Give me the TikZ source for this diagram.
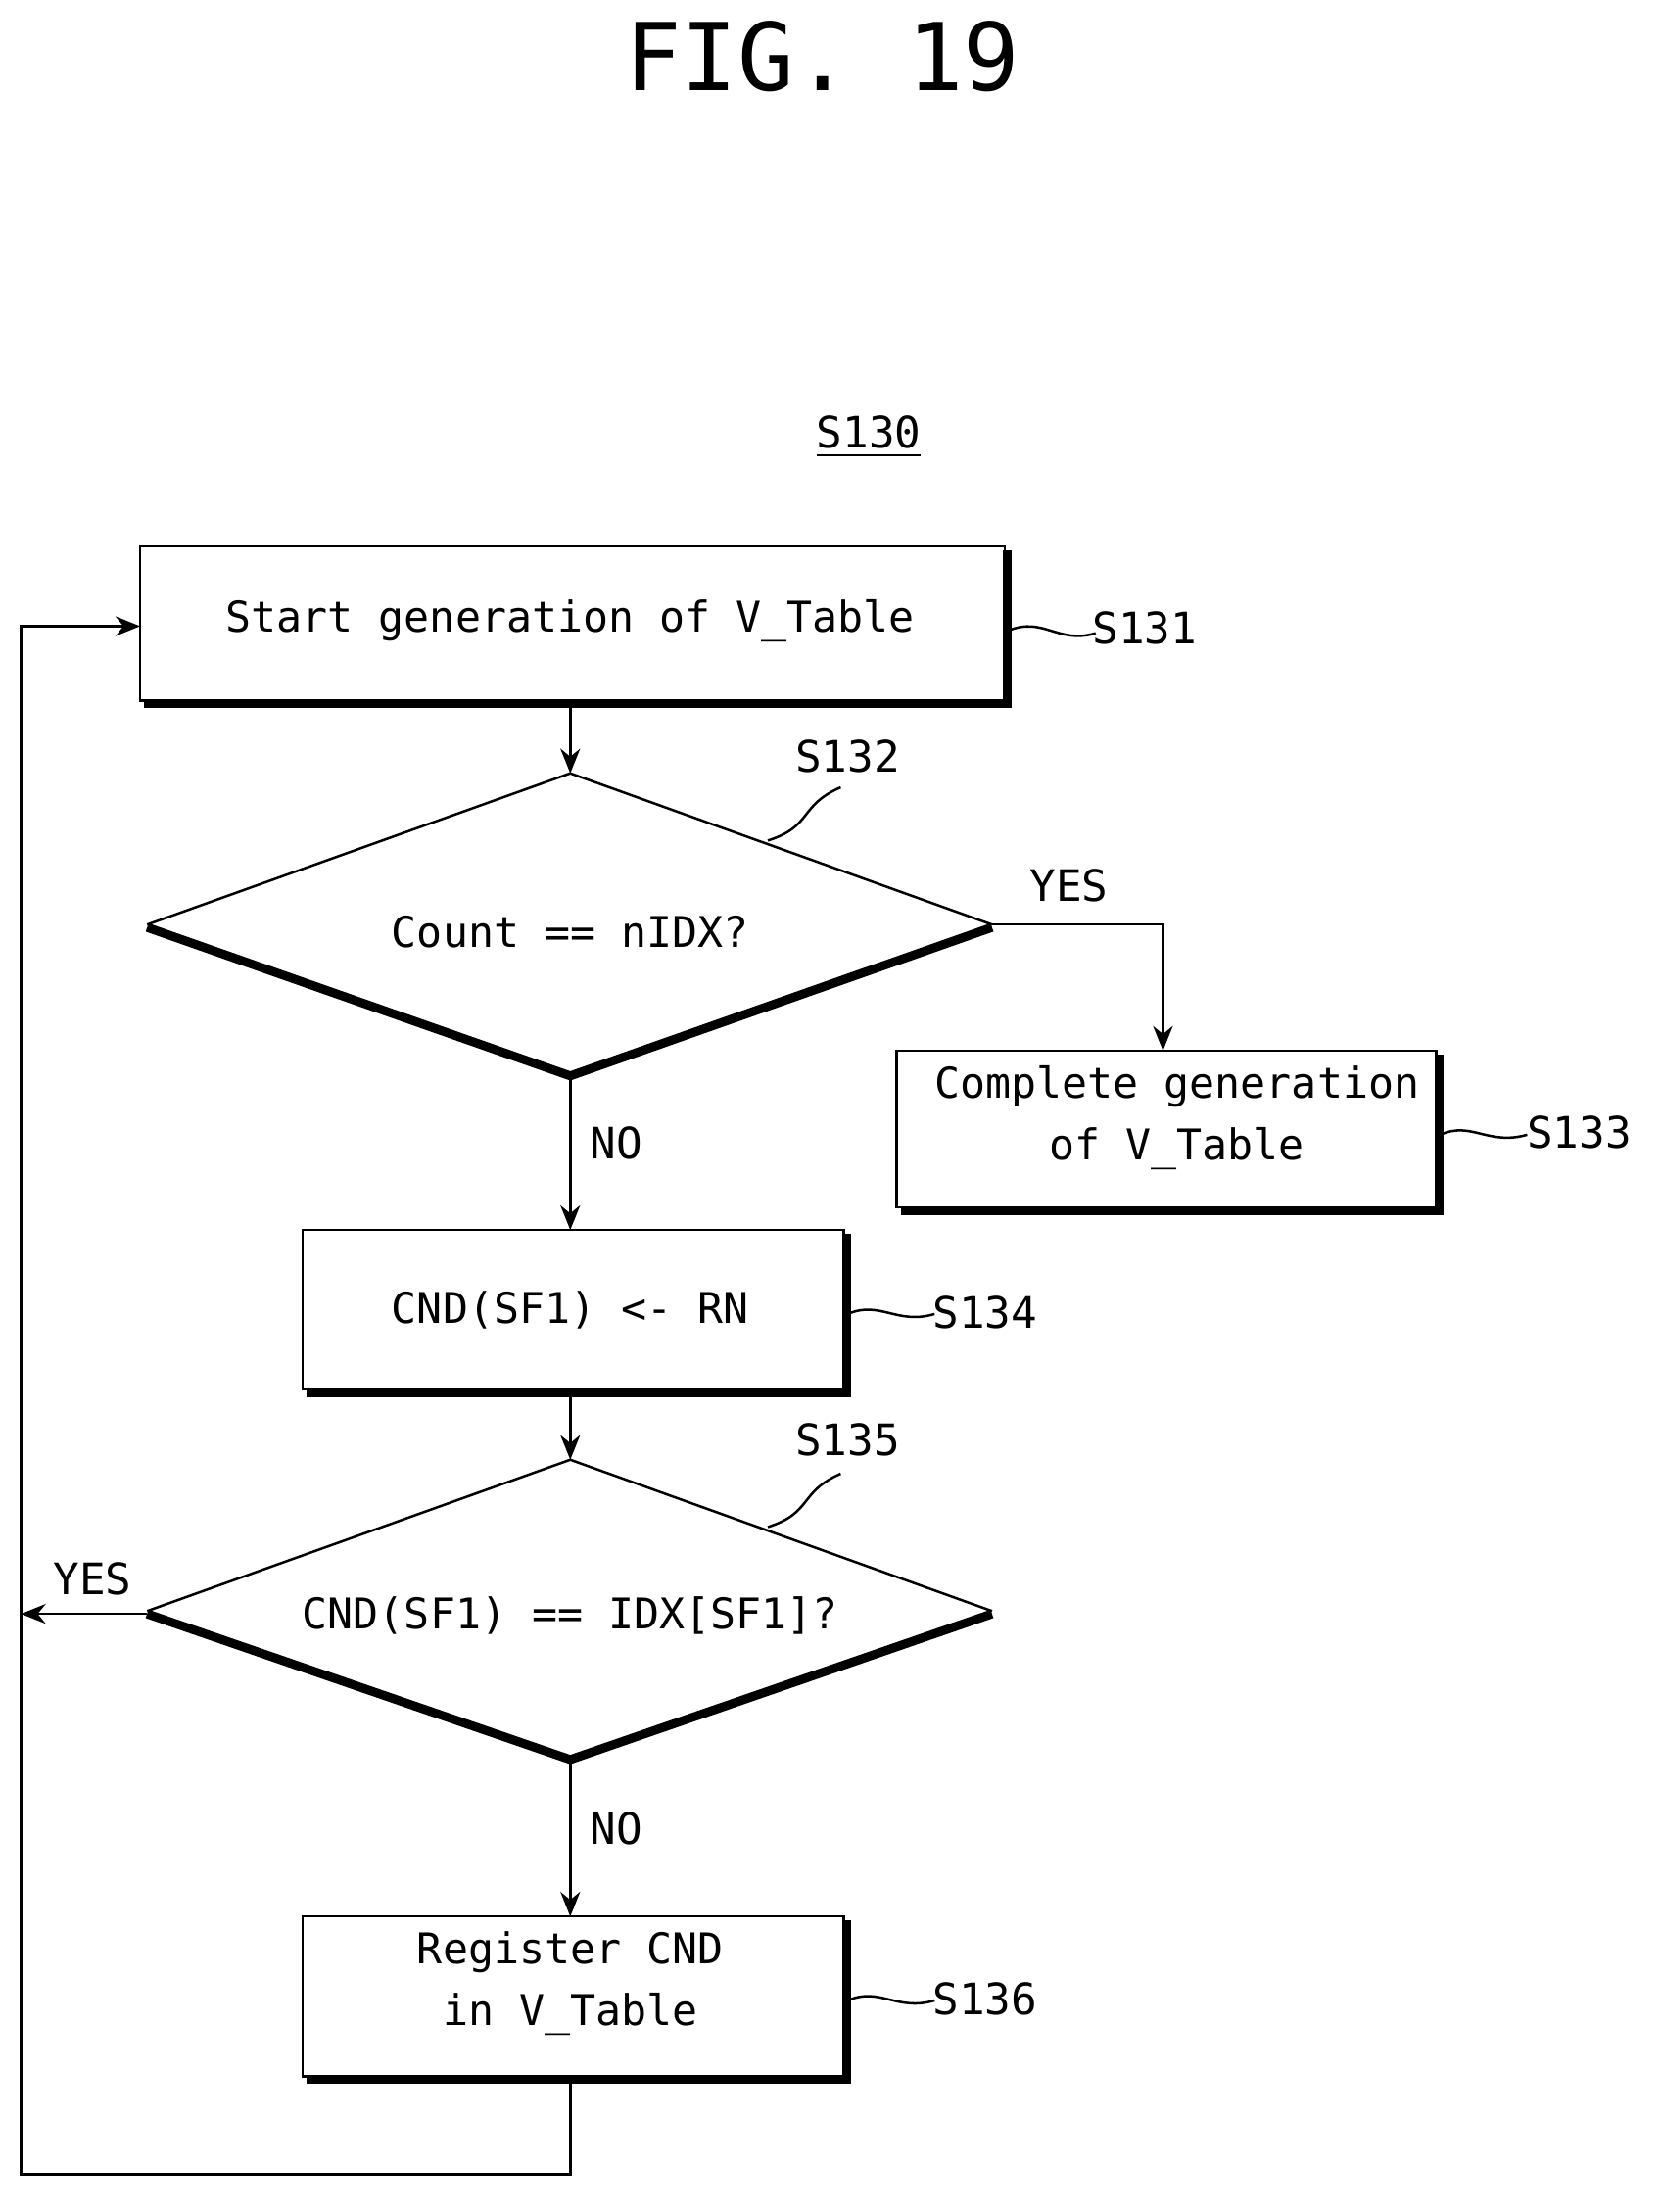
\documentclass[tikz,border=0pt]{standalone}
\usepackage{fontspec}
\setmainfont{DejaVu Sans Mono}
\usetikzlibrary{arrows.meta}
\begin{document}
\begin{tikzpicture}[x=0.01cm,y=-0.01cm,
  txt/.style={font=\fontsize{8.6}{12.5}\selectfont,align=center},
  lbl/.style={font=\fontsize{8.8}{11}\selectfont},
  ln/.style={line width=0.5pt},
  arr/.style={ln,-{Stealth[length=5pt,width=4pt]}},
  heavy/.style={line width=1.8pt}]
\useasboundingbox (0,0) rectangle (1185,1579);
\node[font=\fontsize{19}{21}\selectfont] (title) at (587,40) {FIG. 19};
\node[lbl] (s130) at (620,312) {\underline{S130}};
% boxes
\newcommand{\stepbox}[5]{% name x1 y1 x2 y2
  \draw[ln] (#2,#3) rectangle (#4,#5);
  \draw[heavy] (#4+2,#3+3) -- (#4+2,#5+2) -- (#2+3,#5+2);
  \coordinate (#1) at ({(#2+#4)/2},{(#3+#5)/2});}
\stepbox{b131}{100}{390}{717}{500}
\node[txt] (t131) at (407,443) {Start generation of V\_Table};
\stepbox{b133}{640}{750}{1025}{862}
\node[txt] (t133) at (840,798) {Complete generation\\of V\_Table};
\stepbox{b134}{216}{878}{602}{992}
\node[txt] (t134) at (407,935) {CND(SF1) <- RN};
\stepbox{b136}{216}{1368}{602}{1482}
\node[txt] (t136) at (407,1416) {Register CND\\in V\_Table};
% diamonds
\draw[ln] (105,660) -- (407,552) -- (708,660);
\draw[heavy] (105,662) -- (407,768) -- (708,662);
\node[txt] (t132) at (407,665) {Count == nIDX?};
\draw[ln] (105,1150) -- (407,1042) -- (708,1150);
\draw[heavy] (105,1152) -- (407,1256) -- (708,1152);
\node[txt] (t135) at (407,1153) {CND(SF1) == IDX[SF1]?};
% step labels
\node[lbl] (l131) at (817,448) {S131};
\draw[ln] (720,450) .. controls (745,440) and (755,460) .. (782,452);
\node[lbl] (l132) at (605,540) {S132};
\draw[ln] (548,600) .. controls (580,590) and (570,575) .. (600,562);
\node[lbl] (l133) at (1127,808) {S133};
\draw[ln] (1028,810) .. controls (1050,800) and (1062,818) .. (1090,810);
\node[lbl] (l134) at (703,937) {S134};
\draw[ln] (605,938) .. controls (628,928) and (640,946) .. (667,938);
\node[lbl] (l135) at (605,1028) {S135};
\draw[ln] (548,1090) .. controls (580,1080) and (570,1065) .. (600,1052);
\node[lbl] (l136) at (703,1427) {S136};
\draw[ln] (605,1428) .. controls (628,1418) and (640,1436) .. (667,1428);
% connectors
\coordinate (d1b) at (407,768);
\coordinate (d1r) at (708,660);
\coordinate (d2b) at (407,1256);
\coordinate (d2l) at (105,1152);
\draw[arr] (407,502) -- (407,552);
\draw[arr] (d1r) -- (830,660) -- (830,750);
\node[lbl] (yes1) at (763,632) {YES};
\draw[arr] (d1b) -- (407,878);
\node[lbl] (no1) at (440,816) {NO};
\draw[arr] (407,994) -- (407,1042);
\draw[arr] (d2l) -- (15,1152);
\node[lbl] (yes2) at (66,1127) {YES};
\draw[arr] (d2b) -- (407,1368);
\node[lbl] (no2) at (440,1305) {NO};
\draw[arr] (407,1484) -- (407,1552) -- (15,1552) -- (15,447) -- (100,447);
\end{tikzpicture}
\end{document}
